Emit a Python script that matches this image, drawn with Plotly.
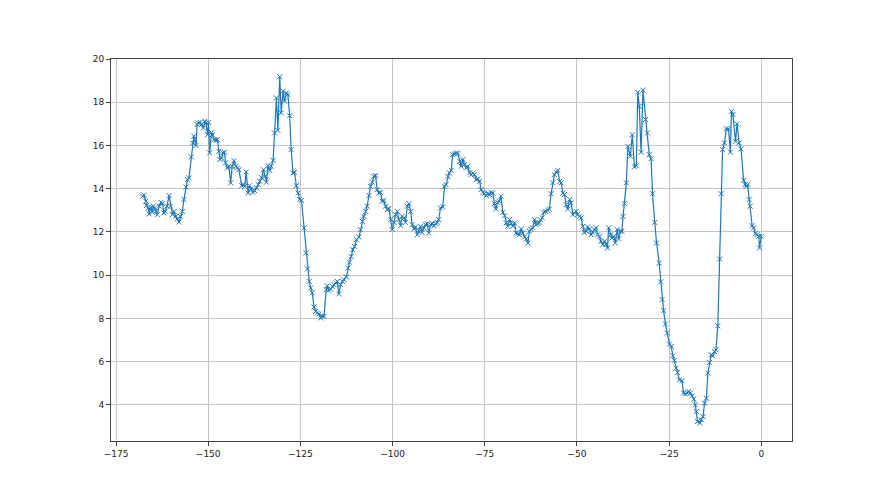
import plotly.graph_objects as go

hours = [-167.8,-167.4,-166.9,-166.7,-166.3,-166.0,-165.6,-165.1,-164.9,-164.5,-164.2,-163.8,-163.3,-162.8,-162.4,-162.0,-161.7,-161.2,-160.6,-160.2,
-159.7,-159.3,-158.8,-158.4,-157.9,-157.5,-157.0,-156.6,-156.0,-155.6,-155.2,-154.6,-154.2,-153.9,-153.7,-153.3,-153.0,-152.7,-152.2,-151.8,
-151.3,-150.9,-150.6,-150.2,-149.9,-149.6,-149.1,-148.9,-148.4,-147.9,-147.5,-147.1,-146.8,-146.4,-146.0,-145.6,-145.3,-144.8,-144.4,-143.9,
-143.5,-143.0,-142.5,-142.1,-141.7,-140.9,-140.5,-140.1,-139.7,-139.2,-138.8,-138.3,-137.9,-137.4,-136.9,-136.4,-136.0,-135.5,-135.0,-134.6,
-134.2,-133.8,-133.3,-132.9,-132.4,-132.0,-131.5,-131.1,-130.6,-130.2,-129.7,-129.3,-128.8,-128.4,-127.9,-127.5,-127.0,-126.6,-126.1,-125.6,
-125.2,-124.7,-124.0,-123.5,-123.1,-122.6,-122.2,-121.8,-121.3,-120.9,-120.4,-120.0,-119.5,-119.1,-118.6,-118.0,-117.7,-117.3,-116.8,-116.3,
-115.9,-115.4,-115.0,-114.6,-114.1,-113.6,-113.2,-112.5,-112.1,-111.7,-111.2,-110.8,-110.3,-109.8,-109.1,-108.7,-108.2,-107.8,-107.3,-106.9,
-106.4,-106.0,-105.5,-105.1,-104.6,-104.2,-103.7,-103.3,-102.8,-102.4,-101.9,-101.4,-101.0,-100.5,-100.1,-99.6,-99.2,-98.7,-98.3,-97.8,
-97.4,-96.9,-96.5,-96.0,-95.6,-95.1,-94.7,-94.2,-93.8,-93.3,-92.9,-92.4,-92.0,-91.5,-91.1,-90.6,-90.2,-89.7,-89.2,-88.8,
-88.3,-87.9,-87.5,-87.0,-86.4,-85.9,-85.5,-85.0,-84.6,-84.1,-83.7,-83.2,-82.7,-82.3,-81.8,-81.4,-80.9,-80.5,-80.0,-79.6,
-79.1,-78.7,-78.2,-77.8,-77.3,-76.9,-76.4,-76.0,-75.5,-75.1,-74.6,-74.2,-73.7,-73.3,-72.8,-72.4,-72.0,-71.5,-71.1,-70.6,
-70.1,-69.6,-69.2,-68.8,-68.3,-67.8,-67.4,-66.9,-66.5,-66.0,-65.6,-65.1,-64.7,-64.2,-63.8,-63.3,-62.9,-62.4,-62.0,-61.5,
-61.1,-60.6,-60.3,-59.9,-59.4,-59.0,-58.5,-57.9,-57.5,-57.0,-56.6,-56.1,-55.6,-55.2,-54.7,-54.3,-53.8,-53.4,-52.9,-52.5,
-52.0,-51.6,-51.1,-50.7,-50.2,-49.8,-49.3,-48.9,-48.4,-48.0,-47.5,-47.1,-46.6,-46.2,-45.7,-45.3,-44.8,-44.4,-43.9,-43.5,
-43.0,-42.5,-42.1,-41.7,-41.4,-40.9,-40.5,-40.0,-39.6,-39.1,-38.7,-38.2,-37.8,-37.5,-37.1,-36.6,-36.2,-35.5,-35.0,-34.4,
-33.9,-33.5,-33.1,-32.6,-32.1,-31.4,-30.9,-30.4,-29.9,-29.5,-28.9,-28.4,-27.7,-27.3,-26.9,-26.5,-26.0,-25.5,-24.9,-24.4,
-24.0,-23.6,-23.1,-22.7,-22.2,-21.5,-21.1,-20.6,-20.1,-19.7,-19.2,-18.8,-18.3,-17.9,-17.6,-17.3,-16.7,-16.3,-15.8,-15.4,
-14.9,-14.5,-14.1,-13.6,-13.2,-12.7,-12.3,-11.8,-11.3,-10.9,-10.5,-10.0,-9.5,-8.9,-8.4,-8.1,-7.7,-7.0,-6.6,-6.0,
-5.5,-4.8,-4.4,-4.1,-3.7,-3.3,-3.0,-2.5,-2.1,-1.6,-1.2,-0.7,-0.5,0.0]

values = [13.65,13.70,13.42,13.23,13.11,12.83,13.14,12.91,13.19,13.11,12.95,12.80,13.19,13.37,13.31,12.88,12.95,13.19,13.68,13.19,
12.80,12.95,12.72,12.60,12.46,12.72,12.95,13.50,14.08,14.42,14.50,15.47,16.12,16.43,16.27,16.00,16.97,17.04,17.07,16.97,
16.81,17.12,17.04,16.50,17.07,15.66,16.60,16.50,16.27,16.24,16.27,15.73,15.35,15.43,15.66,15.69,15.20,14.96,15.04,14.27,
15.04,15.30,15.04,14.96,14.88,14.14,14.19,14.11,14.78,13.80,14.14,13.99,13.83,13.91,14.04,14.19,14.34,14.50,14.88,14.57,
14.30,15.07,14.84,15.04,15.31,16.58,18.20,16.70,19.18,17.51,18.51,18.05,18.43,18.36,17.38,15.81,14.73,14.76,14.14,13.80,
13.50,13.46,12.19,11.03,10.29,9.71,9.41,9.18,8.53,8.32,8.25,8.20,8.02,8.12,8.09,9.33,9.51,9.30,9.36,9.48,
9.56,9.64,9.71,9.13,9.56,9.71,9.79,9.92,10.33,10.60,10.87,11.18,11.33,11.64,11.77,12.11,12.49,12.72,12.95,13.19,
13.68,14.11,14.30,14.57,14.61,13.96,13.80,13.83,13.42,13.46,13.19,13.03,13.08,12.57,12.11,12.44,12.80,12.95,12.57,12.29,
12.72,12.65,12.44,13.19,13.31,12.95,12.34,12.14,12.23,11.87,12.07,12.26,11.98,12.19,12.34,12.38,11.95,12.34,12.38,12.29,
12.38,12.44,12.57,13.11,13.16,14.11,14.19,14.57,14.73,14.85,15.58,15.61,15.66,15.63,15.27,15.04,15.35,15.12,14.96,15.04,
14.73,14.65,14.73,14.65,14.42,14.45,14.34,13.96,13.83,13.77,13.68,13.76,13.73,13.83,13.80,13.31,13.06,13.37,13.42,13.65,
12.91,12.75,12.42,12.26,12.57,12.38,12.26,12.42,11.95,11.92,11.87,12.14,11.95,11.77,11.68,11.49,12.03,12.11,12.19,12.57,
12.34,12.38,12.44,12.57,12.65,12.91,12.95,13.00,13.06,13.77,14.27,14.65,14.76,14.85,14.34,14.27,13.80,13.73,13.26,13.06,
13.50,13.34,12.80,12.88,12.95,12.80,12.72,12.65,12.26,11.98,12.03,12.23,12.14,11.87,11.98,12.11,12.19,11.87,11.80,11.57,
11.41,11.57,11.44,11.26,12.19,11.87,11.72,11.80,11.49,12.11,11.68,12.03,12.03,12.72,13.31,14.27,15.96,15.50,16.50,15.01,
15.07,18.46,17.81,15.69,18.56,17.20,16.58,15.58,15.39,13.77,12.44,11.49,10.56,9.69,8.87,8.36,7.74,7.32,6.81,6.70,
6.27,6.06,5.70,5.50,5.16,5.12,4.55,4.51,4.55,4.62,4.55,4.42,4.27,4.00,3.69,3.23,3.16,3.31,3.46,4.08,
4.31,5.47,5.96,6.32,6.27,6.47,6.55,7.66,10.75,13.77,15.81,16.12,16.77,16.77,15.69,17.58,17.43,16.19,17.00,16.12,
15.84,14.39,14.19,14.11,14.19,13.50,13.19,12.29,12.19,11.92,11.87,11.80,11.26,11.80]

x_ticks = [-175, -150, -125, -100, -75, -50, -25, 0]
y_ticks = [4, 6, 8, 10, 12, 14, 16, 18, 20]

blue = "#1f77b4"

fig = go.Figure()
fig.add_trace(go.Scatter(
    x=hours, y=values, mode="lines+markers",
    line=dict(color=blue, width=1.2),
    marker=dict(symbol="x-thin", size=5, color=blue, line=dict(width=1, color=blue)),
    showlegend=False,
))

axis_common = dict(
    showgrid=True, gridcolor="#c4c4c4", gridwidth=1,
    zeroline=False, showline=True, linecolor="#444444", linewidth=1, mirror=True,
    ticks="outside", ticklen=4, tickcolor="#444444", tickwidth=1,
    tickfont=dict(family="DejaVu Sans", size=9, color="#222222"),
)

fig.update_layout(
    width=880, height=495,
    paper_bgcolor="white", plot_bgcolor="white",
    margin=dict(l=103, r=96, t=51, b=62),
    xaxis=dict(range=[-176.36, 8.32], tickvals=x_ticks,
               ticktext=[str(v).replace("-", "\u2212") for v in x_ticks], **axis_common),
    yaxis=dict(range=[2.33, 20.0], tickvals=y_ticks, **axis_common),
)

fig.write_html("out.html")
